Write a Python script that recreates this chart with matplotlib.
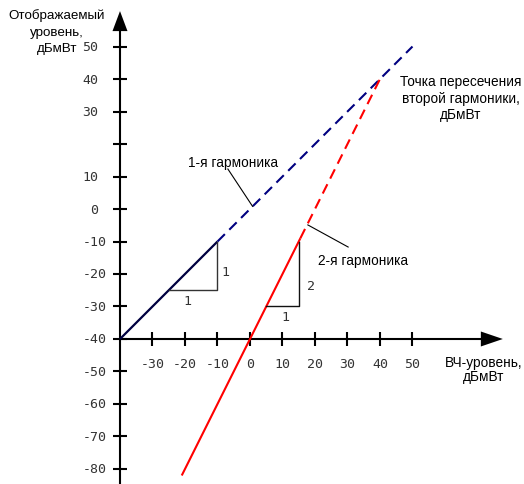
import matplotlib
matplotlib.use("Agg")
import matplotlib.pyplot as plt
from matplotlib.patches import Polygon

# ---- data ----
x_ticks = [-30, -20, -10, 0, 10, 20, 30, 40, 50]
x_tick_labels = ["-30", "-20", "-10", "0", "10", "20", "30", "40", "50"]
y_ticks = [50, 40, 30, 20, 10, 0, -10, -20, -30, -40, -50, -60, -70, -80]
y_tick_labels = ["50", "40", "30", "", "10", "0", "-10", "-20", "-30", "-40",
                 "-50", "-60", "-70", "-80"]

fund_solid_x = [-40, -10]
fund_solid_y = [-40, -10]
fund_dash_x = [-10, 50]
fund_dash_y = [-10, 50]

harm2_solid_x = [-21, 15.5]
harm2_solid_y = [-82, -9]
harm2_dash_x = [15.5, 40]
harm2_dash_y = [-9, 40]

tri1_x = [-25, -10, -10]
tri1_y = [-25, -25, -10]
tri2_x = [5, 15, 15]
tri2_y = [-30, -30, -10]

y_title_lines = ["Отображаемый", "уровень,", "дБмВт"]

origin = -40

plt.rcParams['lines.scale_dashes'] = False

fig = plt.figure(figsize=(5.24, 4.85), dpi=100)
ax = fig.add_axes([0, 0, 1, 1])
ax.set_xlim(-76.92, 84.31)
ax.set_ylim(-84.62, 64.62)
ax.axis('off')

px = 1 / 3.25  # one pixel in data units

sans = ['Liberation Sans', 'DejaVu Sans']
mono = ['DejaVu Sans Mono']

# axes
ax.plot([origin, origin], [-84.62, 56], color='black', lw=1.5, solid_capstyle='butt')
ax.plot([origin, 73], [origin, origin], color='black', lw=1.5, solid_capstyle='butt')
ytip = 60.9
ax.add_patch(Polygon([[origin, ytip], [origin - 7.5 * px, ytip - 20 * px],
                      [origin + 7.5 * px, ytip - 20 * px]], closed=True,
                     color='black', lw=0))
xtip = 77.8
ax.add_patch(Polygon([[xtip, origin], [xtip - 22 * px, origin + 7.5 * px],
                      [xtip - 22 * px, origin - 7.5 * px]], closed=True,
                     color='black', lw=0))

# ticks
for yt, lab in zip(y_ticks, y_tick_labels):
    ax.plot([origin - 7 * px, origin + 7 * px], [yt, yt], color='black', lw=1.5,
            solid_capstyle='butt')
    if lab:
        xr = origin - (13 if lab.startswith('-') else 21.5) * px
        ax.text(xr, yt, lab, ha='right', va='center', family=mono,
                fontsize=9.5, color='#333333')
for xt, lab in zip(x_ticks, x_tick_labels):
    ax.plot([xt, xt], [origin - 7 * px, origin + 7 * px], color='black', lw=1.5,
            solid_capstyle='butt')
    ax.text(xt, origin - 25 * px, lab, ha='center', va='center', family=mono,
            fontsize=9.5, color='#333333')

# lines
ax.plot(fund_solid_x, fund_solid_y, color='#000040', lw=1.6, solid_capstyle='butt')
ax.plot(fund_dash_x, fund_dash_y, color='#000080', lw=1.5, dashes=(7.5, 4.5))
ax.plot(harm2_solid_x, harm2_solid_y, color='#ff0000', lw=1.5, solid_capstyle='butt')
ax.plot(harm2_dash_x, harm2_dash_y, color='#ff0000', lw=1.5, dashes=(7.5, 4.5))

# slope triangles
ax.plot(tri1_x, tri1_y, color='#333333', lw=1.0)
ax.plot(tri2_x, tri2_y, color='#111111', lw=1.0)
ax.text(-19.4, -28.3, "1", ha='center', va='center', family=mono, fontsize=9.5, color='#333333')
ax.text(-7.6, -19.1, "1", ha='center', va='center', family=mono, fontsize=9.5, color='#333333')
ax.text(10.8, -33.2, "1", ha='center', va='center', family=mono, fontsize=9.5, color='#333333')
ax.text(18.8, -23.4, "2", ha='center', va='center', family=mono, fontsize=9.5, color='#333333')

# annotations
ax.plot([-6.8, 0.8], [12.3, 0.8], color='black', lw=0.8)
ax.text(-5.2, 14.4, "1-я гармоника", ha='center', va='center', family=sans,
        fontsize=9.8, color='black')
ax.plot([17.8, 30.2], [-4.9, -11.7], color='black', lw=0.8)
ax.text(34.8, -15.7, "2-я гармоника", ha='center', va='center', family=sans,
        fontsize=9.8, color='black')

ax.text(-40 + (461 - 120) * px, -40 + (340 - 98.5) * px,
        "Точка пересечения\nвторой гармоники,\nдБмВт", ha='center', va='center',
        family=sans, fontsize=9.8, color='black', linespacing=1.2)
for i, line in enumerate(y_title_lines):
    ax.text(-40 + (57 - 120) * px, -40 + (340 - (16 + 16.5 * i)) * px,
            line, ha='center', va='center', family=sans, fontsize=9.6,
            color='black')
ax.text(-40 + (484 - 120) * px, -40 + (340 - 370) * px,
        "ВЧ-уровень,\nдБмВт", ha='center', va='center',
        family=sans, fontsize=9.8, color='black', linespacing=1.0)

fig.savefig("out.png", dpi=100)
